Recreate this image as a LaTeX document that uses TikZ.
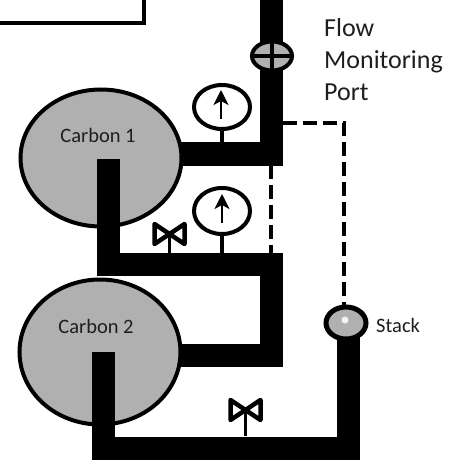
\documentclass[tikz,border=0pt]{standalone}
\usepackage{fontspec}
\setmainfont{Carlito}
\usepackage{xcolor}
\usetikzlibrary{arrows.meta,shapes.geometric,positioning,calc}
\definecolor{carbonGray}{RGB}{176,176,176}
\definecolor{textGray}{RGB}{30,30,30}
\tikzset{
    pipe/.style={line width=23pt, miter limit=10},
    vessel/.style={ellipse, draw=black, fill=carbonGray, line width=4pt, inner sep=0pt},
    gauge/.style={ellipse, draw=black, fill=white, line width=4pt, inner sep=0pt, minimum width=56pt, minimum height=44pt},
    stem/.style={line width=3.5pt},
    sampleline/.style={line width=4pt, dash pattern=on 14pt off 6pt},
    needle/.style={line width=2.5pt, -{Stealth[length=15pt,width=15pt,inset=4pt]}},
    label/.style={text=textGray, inner sep=0pt},
    valve/.pic={
        \draw[line width=4.5pt, line join=round, fill=white] (-15,-10) -- (15,10) -- (15,-10) -- (-15,10) -- cycle;
    }
}
\begin{document}
\begin{tikzpicture}[x=1pt, y=-1pt]
    \useasboundingbox (0,0) rectangle (458,465);

    % box at the top
    \coordinate (boxA) at (0,23);
    \coordinate (boxB) at (144,23);
    \coordinate (boxC) at (144,-1);
    \draw [line width=4pt] (boxA) -- (boxB) -- (boxC);

    % points on the pipes
    \coordinate (inlet) at (271,-1);
    \coordinate (elbow1) at (271,154);
    \coordinate (out1) at (172,154);
    \coordinate (in1) at (108,159);
    \coordinate (bend1) at (108,264);
    \coordinate (elbow2) at (271,264);
    \coordinate (elbow3) at (271,355);
    \coordinate (out2) at (172,355);
    \coordinate (in2) at (103,352);
    \coordinate (bend2) at (103,448);
    \coordinate (elbow4) at (348,448);
    \coordinate (stackIn) at (348,335);

    % vessels and pipes, each vessel over its outlet
    \draw [pipe] (out1) -- (elbow1) -- (inlet);
    \node [vessel, minimum width=161pt, minimum height=137pt] (carbon1) at (101,158) {};
    \draw [pipe] (in1) -- (bend1) -- (elbow2) -- (elbow3) -- (out2);
    \node [vessel, minimum width=161pt, minimum height=145pt] (carbon2) at (100,352) {};
    \draw [pipe] (in2) -- (bend2) -- (elbow4) -- (stackIn);
    \node [label, font=\fontsize{20.5}{24}\selectfont] (carbon1text) at (98,135) {Carbon 1};
    \node [label, font=\fontsize{20.5}{24}\selectfont] (carbon2text) at (96,326) {Carbon 2};

    % flow port and stack
    \node [vessel, minimum width=40pt, minimum height=29pt] (port) at (272,56) {};
    \draw [stem, line width=4pt] (port.north) -- (port.south);
    \draw [stem, line width=4pt] (port.west) -- (port.east);
    \node [vessel, line width=5pt, minimum width=40pt, minimum height=32pt] (stack) at (346,323) {};
    \node [circle, fill=white!85!carbonGray, minimum size=7pt, inner sep=0pt] (stackspot) at (345,320) {};

    % dashed sampling lines
    \coordinate (tapA) at (283,123);
    \coordinate (tapB) at (344,123);
    \draw [sampleline] (tapA) -- (tapB) -- (stack.north -| tapB);
    \coordinate (tapC) at (271,165);
    \coordinate (tapD) at (271,253);
    \draw [sampleline] (tapC) -- (tapD);

    % gauges
    \node [gauge] (gauge1) at (222,107) {};
    \node [gauge, minimum height=46pt] (gauge2) at (222,211) {};
    \coordinate (stem1) at (222,143);
    \coordinate (stem2) at (222,253);
    \draw [stem] (gauge1) ++(0,24) -- (stem1);
    \draw [stem] (gauge2) ++(0,25) -- (stem2);
    \coordinate (tail1) at (221,119);
    \coordinate (tip1) at (221,90);
    \coordinate (tail2) at (222,223);
    \coordinate (tip2) at (222,194);
    \draw [needle] (tail1) -- (tip1);
    \draw [needle] (tail2) -- (tip2);

    % valves
    \coordinate (valve1) at (169.5,234);
    \coordinate (valve2) at (245.5,410);
    \coordinate (foot1) at (169.5,254);
    \coordinate (foot2) at (245.5,436);
    \draw [stem] (valve1) -- (foot1);
    \draw [stem] (valve2) -- (foot2);
    \pic at (valve1) {valve};
    \pic at (valve2) {valve};

    % labels
    \node [label, anchor=west, font=\fontsize{26}{32}\selectfont, align=left] (portlabel) at (324,60) {Flow\\Monitoring\\Port};
    \node [label, anchor=west, font=\fontsize{20.5}{24}\selectfont] (stacklabel) at (376,325) {Stack};
\end{tikzpicture}
\end{document}
